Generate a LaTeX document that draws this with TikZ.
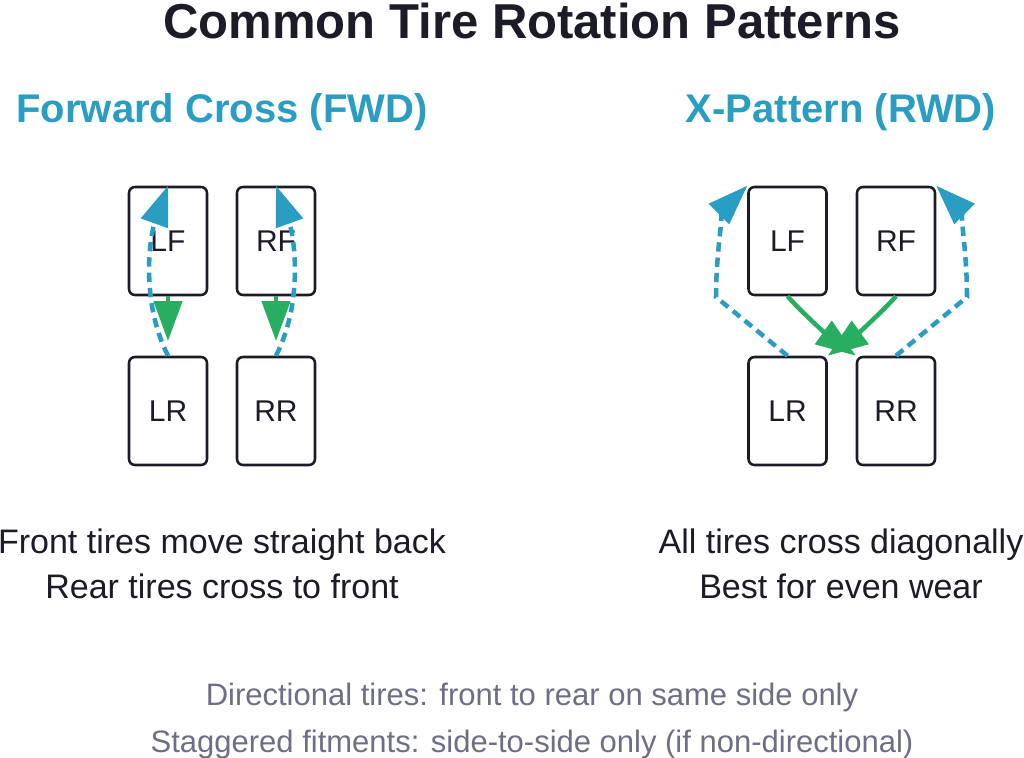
\documentclass[tikz,border=0pt]{standalone}
\usepackage{fontspec}
\setmainfont{Liberation Sans}
\usetikzlibrary{arrows.meta, positioning}

\definecolor{tealblue}{HTML}{2A9DC2}
\definecolor{movegreen}{HTML}{28AE60}
\definecolor{inkdark}{HTML}{1C1C28}
\definecolor{notegray}{HTML}{6E6F86}

\begin{document}
\begin{tikzpicture}[
      x=0.75pt, y=-0.75pt,
      >={Triangle[length=30pt, width=21pt]},
      tirebox/.style={draw=inkdark, line width=1.9pt, rounded corners=4.5pt, minimum width=58.5pt, minimum height=81pt, inner sep=0pt, text=inkdark, font=\fontsize{22.5}{27}\selectfont},
      titletext/.style={anchor=base, text=inkdark, font=\fontsize{36.75}{44}\selectfont\bfseries},
      headtext/.style={anchor=base, text=tealblue, font=\fontsize{30}{36}\selectfont\bfseries},
      desctext/.style={anchor=base, text=inkdark, font=\fontsize{25.5}{31}\selectfont},
      notetext/.style={anchor=base, text=notegray, font=\fontsize{23.25}{28}\selectfont},
      straightmove/.style={->, movegreen, line width=3.4pt},
      crossmove/.style={->, tealblue, line width=3.4pt, dash pattern=on 7pt off 4.5pt},
  ]

  % page
  \fill[white] (0,0) rectangle (1024,757);
  \useasboundingbox (0,0) rectangle (1024,757);

  % Title
  \node[titletext] (title) at (532, 38) {Common Tire Rotation Patterns};

  % --- Forward cross ---
  \node[headtext] (fchead) at (222, 122) {Forward Cross (FWD)};

  \node[tirebox] (fcLF) at (168, 241) {LF};
  \node[tirebox] (fcRF) at (276, 241) {RF};
  \node[tirebox] (fcLR) at (168, 411) {LR};
  \node[tirebox] (fcRR) at (276, 411) {RR};

  \draw[straightmove, shorten >=11pt] (fcLF.south) -- (fcLR.north);
  \draw[straightmove, shorten >=11pt] (fcRF.south) -- (fcRR.north);
  \draw[crossmove] (fcLR.north) .. controls +(-28,-55) and +(-18,50) .. (fcLF.north);
  \draw[crossmove] (fcRR.north) .. controls +(28,-55) and +(18,50) .. (fcRF.north);

  \node[desctext] (fcdesc1) at (222, 553) {Front tires move straight back};
  \node[desctext] (fcdesc2) at (222, 598) {Rear tires cross to front};

  % --- X pattern ---
  \node[headtext] (xphead) at (841, 122) {X-Pattern (RWD)};

  \node[tirebox] (xpLF) at (787.5, 241) {LF};
  \node[tirebox] (xpRF) at (896, 241) {RF};
  \node[tirebox] (xpLR) at (787.5, 411) {LR};
  \node[tirebox] (xpRR) at (896, 411) {RR};

  \coordinate (kinkL) at (716, 297);
  \coordinate (kinkR) at (967, 297);

  \draw[straightmove] (xpLF.south) .. controls +(18,20) and +(-25,-18) .. (xpRR.north west);
  \draw[straightmove] (xpRF.south) .. controls +(-18,20) and +(25,-18) .. (xpLR.north east);
  \draw[crossmove] (xpLR.north) -- (kinkL) .. controls +(0,-50) and +(-22,22) .. (xpLF.north west);
  \draw[crossmove] (xpRR.north) -- (kinkR) .. controls +(0,-50) and +(22,22) .. (xpRF.north east);

  \node[desctext] (xpdesc1) at (841, 553) {All tires cross diagonally};
  \node[desctext] (xpdesc2) at (841, 598) {Best for even wear};

  % Notes
  \node[notetext] (note1) at (532, 705) {Directional tires: front to rear on same side only};
  \node[notetext] (note2) at (532, 752) {Staggered fitments: side-to-side only (if non-directional)};

\end{tikzpicture}
\end{document}
